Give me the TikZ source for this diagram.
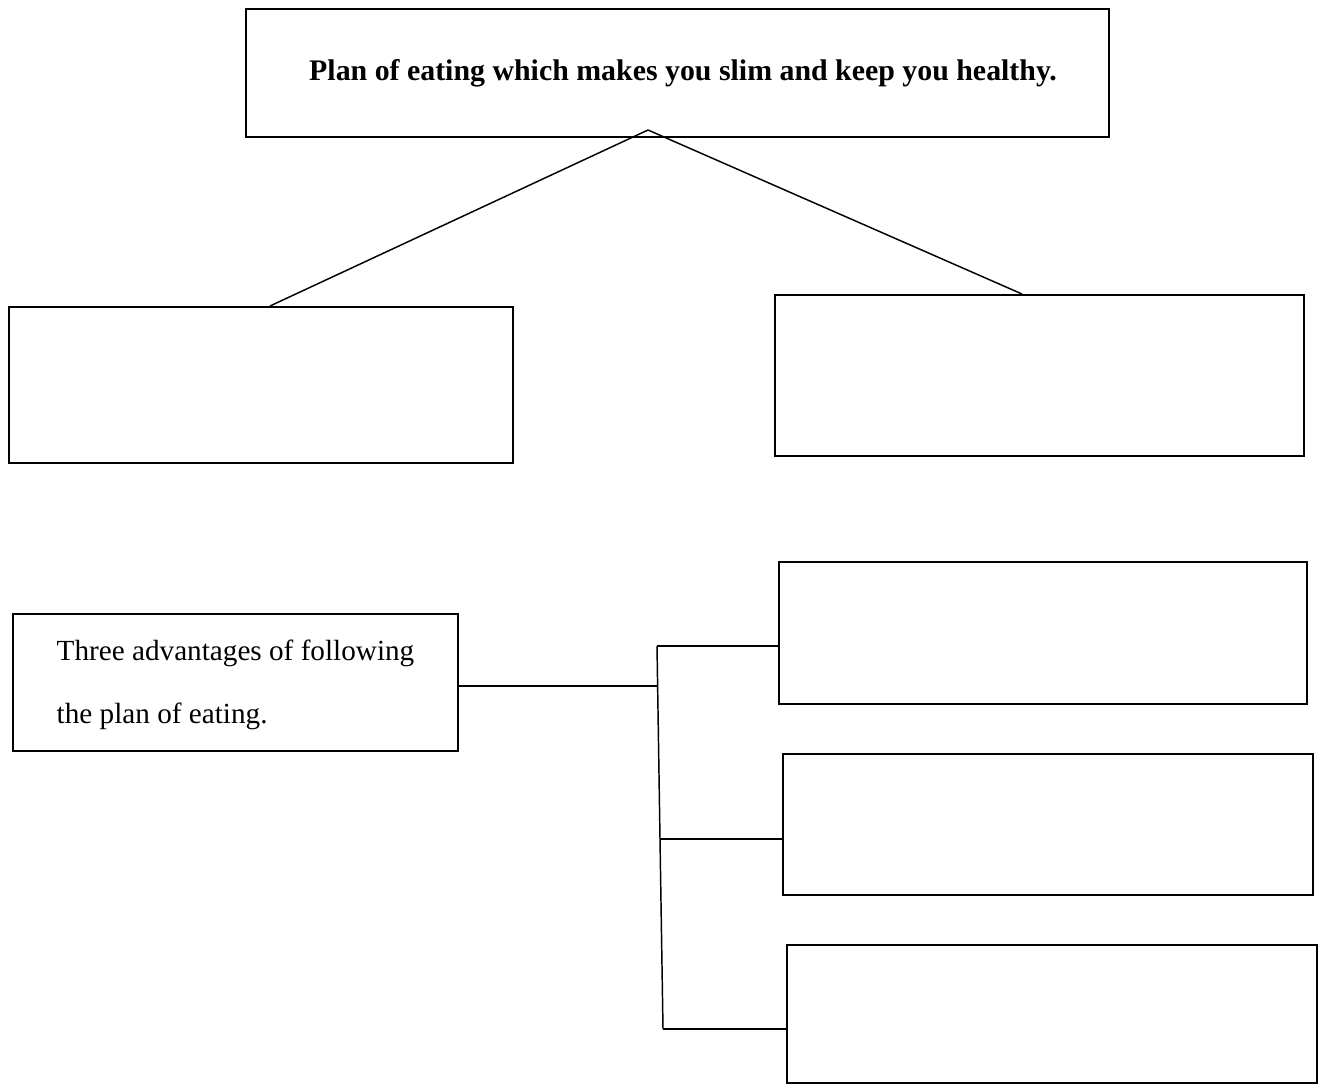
\documentclass[tikz,border=0pt]{standalone}
\usepackage{fontspec}
\setmainfont{Liberation Serif}
\begin{document}
\begin{tikzpicture}[x=0.75pt,y=-0.75pt,
  box/.style={draw,line width=1.3pt,inner sep=0pt,anchor=north west},
  conn/.style={line width=1.1pt}]
\useasboundingbox (0,0) rectangle (1324,1083);
\node[box,minimum width=863*0.75pt,minimum height=128*0.75pt] (top) at (245,8) {};
\node[font=\fontsize{22.4}{26}\selectfont\bfseries] (toptext) at (683,73) {Plan of eating which makes you slim and keep you healthy.};
\node[box,minimum width=504*0.75pt,minimum height=156*0.75pt] (L) at (8,306) {};
\node[box,minimum width=529*0.75pt,minimum height=161*0.75pt] (R) at (774,294) {};
\coordinate (apex) at (648,130);
\draw[conn] (apex) -- (L.north west -| 270,0);
\draw[conn] (apex) -- (R.north west -| 1022,0);
\node[box,minimum width=445*0.75pt,minimum height=137*0.75pt] (adv) at (12,613) {};
\node[anchor=west,font=\fontsize{21.9}{47}\selectfont,align=left] (advtext) at (52,685) {Three advantages of following\\the plan of eating.};
\node[box,minimum width=528*0.75pt,minimum height=142*0.75pt] (b1) at (778,561) {};
\node[box,minimum width=530*0.75pt,minimum height=141*0.75pt] (b2) at (782,753) {};
\node[box,minimum width=530*0.75pt,minimum height=138*0.75pt] (b3) at (786,944) {};
\coordinate (j) at (657,686);
\coordinate (t1) at (657,646);
\coordinate (t2) at (660,839);
\coordinate (t3) at (663,1029);
\draw[conn] (adv.east |- j) -- (j);
\draw[conn] (t1) -- (t2) -- (t3);
\draw[conn] (t1) -- (b1.west |- t1);
\draw[conn] (t2) -- (b2.west |- t2);
\draw[conn] (t3) -- (b3.west |- t3);
\end{tikzpicture}
\end{document}
